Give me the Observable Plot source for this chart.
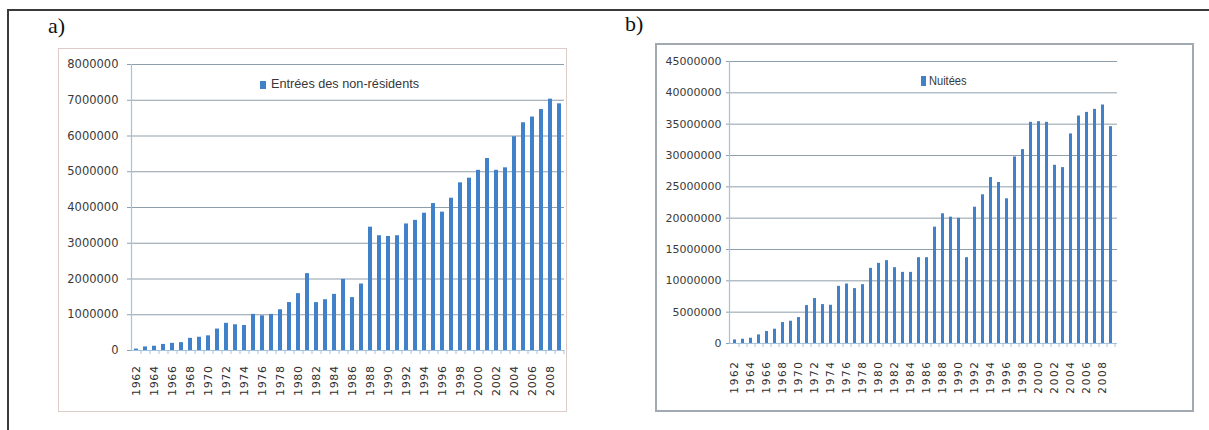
<!DOCTYPE html>
<html>
<head>
<meta charset="utf-8">
<script src="https://cdn.jsdelivr.net/npm/d3@7"></script>
<script src="https://cdn.jsdelivr.net/npm/@observablehq/plot@0.6"></script>
<style>
  html, body { margin: 0; padding: 0; background: #fff; }
  #page { position: relative; width: 1209px; height: 430px; overflow: hidden; background: #fff; }
  .frameline { position: absolute; background: #3a3a3a; }
  .plabel { position: absolute; font-family: "Liberation Serif", "Times New Roman", serif; font-size: 22px; line-height: 22px; color: #111; }
  .box { position: absolute; box-sizing: border-box; }
  .legsq { position: absolute; background: #4181c9; }
  .legtx { position: absolute; font-family: "Liberation Sans", Arial, sans-serif; color: #383838; white-space: nowrap; line-height: 1; }
  .chart { position: absolute; }
</style>
</head>
<body>
<div id="page">
  <div class="frameline" style="left:7px;top:9px;width:1202px;height:2px;"></div>
  <div class="frameline" style="left:7px;top:9px;width:2px;height:421px;"></div>
  <div class="plabel" style="left:48px;top:15px;">a)</div>
  <div class="plabel" style="left:625px;top:13px;">b)</div>
  <div class="box" style="left:58px;top:48px;width:509px;height:364px;border:1.5px solid #dccbc6;"></div>
  <div class="box" style="left:655px;top:43px;width:539px;height:369px;border:2px solid #a3a9b0;"></div>
  <div id="chartA" class="chart" style="left:58px;top:48px;"></div>
  <div id="chartB" class="chart" style="left:655px;top:43px;"></div>
  <div class="legsq" style="left:260px;top:81px;width:6px;height:8px;"></div>
  <div class="legtx" style="left:271px;top:78px;font-size:12.7px;">Entrées des non-résidents</div>
  <div class="legsq" style="left:921px;top:76px;width:5px;height:10px;"></div>
  <div class="legtx" style="left:929px;top:74px;font-size:13.5px;transform:scaleX(0.82);transform-origin:left center;">Nuitées</div>
</div>
<script>
// ---- data ----
const years = [1962, 1963, 1964, 1965, 1966, 1967, 1968, 1969, 1970, 1971,
  1972, 1973, 1974, 1975, 1976, 1977, 1978, 1979, 1980, 1981,
  1982, 1983, 1984, 1985, 1986, 1987, 1988, 1989, 1990, 1991,
  1992, 1993, 1994, 1995, 1996, 1997, 1998, 1999, 2000, 2001,
  2002, 2003, 2004, 2005, 2006, 2007, 2008, 2009];

// a) Entrées des non-résidents
const entrees = [40000, 100000, 120000, 170000, 200000, 220000, 340000, 370000, 410000, 600000,
  760000, 720000, 700000, 1010000, 970000, 1010000, 1140000, 1340000, 1590000, 2150000,
  1340000, 1420000, 1570000, 1990000, 1480000, 1860000, 3450000, 3210000, 3190000, 3210000,
  3540000, 3640000, 3840000, 4110000, 3870000, 4260000, 4690000, 4820000, 5040000, 5370000,
  5040000, 5110000, 5980000, 6370000, 6530000, 6740000, 7030000, 6900000];

// b) Nuitées
const nuitees = [570000, 680000, 840000, 1370000, 1910000, 2280000, 3340000, 3550000, 4140000, 6050000,
  7170000, 6210000, 6100000, 9120000, 9490000, 8760000, 9390000, 11990000, 12790000, 13220000,
  12100000, 11350000, 11350000, 13690000, 13690000, 18570000, 20700000, 20160000, 19980000, 13690000,
  21750000, 23730000, 26480000, 25690000, 23090000, 29770000, 30940000, 35290000, 35400000, 35290000,
  28440000, 28070000, 33440000, 36300000, 36880000, 37360000, 38060000, 34600000];

const yTicksA = [0, 1000000, 2000000, 3000000, 4000000, 5000000, 6000000, 7000000, 8000000];
const yTicksB = [0, 5000000, 10000000, 15000000, 20000000, 25000000, 30000000, 35000000, 40000000, 45000000];
const yearLabels = [1962, 1964, 1966, 1968, 1970, 1972, 1974, 1976, 1978, 1980, 1982, 1984,
  1986, 1988, 1990, 1992, 1994, 1996, 1998, 2000, 2002, 2004, 2006, 2008];

// ---- styles ----
const barColor = "#4181c9";
const gridColor = "#8f9eab";
const axisColor = "#a3c2de";
const textColor = "#3a3a3a";
const tickFont = "DejaVu Sans, Verdana, sans-serif";

function makeChart(cfg) {
  const data = years.map((year, i) => ({year, value: cfg.values[i]}));
  const step = (cfg.width - cfg.ml - cfg.mr) / years.length;
  const svg = Plot.plot({
    width: cfg.width,
    height: cfg.height,
    marginLeft: cfg.ml,
    marginRight: cfg.mr,
    marginTop: cfg.mt,
    marginBottom: cfg.mb,
    style: {background: "transparent", overflow: "visible"},
    x: {type: "band", domain: years, paddingInner: cfg.pad, paddingOuter: cfg.pad / 2, axis: null, label: null},
    y: {domain: [0, cfg.yTicks[cfg.yTicks.length - 1]], axis: null, label: null},
    marks: [
      Plot.gridY(cfg.yTicks, {stroke: gridColor, strokeOpacity: 1, strokeWidth: 1}),
      Plot.axisY(cfg.yTicks, {
        label: null,
        tickSize: cfg.yTickSize, tickPadding: cfg.yTickPad, tickFormat: d3.format("d"),
        stroke: gridColor, fill: textColor, fontSize: cfg.yFont, fontFamily: tickFont
      }),
      Plot.barY(data, {x: "year", y: "value", fill: barColor}),
      Plot.frame({anchor: "left", stroke: axisColor, strokeWidth: 1.2}),
      Plot.ruleY([0], {stroke: axisColor, strokeWidth: 1.2}),
      Plot.axisX(years, {label: null, tickSize: 4, tickFormat: () => "", dx: step / 2, stroke: axisColor}),
      Plot.axisX(yearLabels, {
        label: null,
        tickSize: 0, tickRotate: -90, tickPadding: cfg.xTickPad, tickFormat: d3.format("d"),
        fill: "#2e2e2e", fontSize: cfg.xFont, fontFamily: tickFont
      })
    ]
  });
  svg.querySelectorAll('g[aria-label="x-axis tick label"] text').forEach(t => {
    t.setAttribute("letter-spacing", cfg.xSpacing);
  });
  return svg;
}

document.getElementById("chartA").appendChild(makeChart({
  values: entrees, yTicks: yTicksA,
  width: 509, height: 364, ml: 73, mr: 3, mt: 16, mb: 62,
  pad: 0.52, yTickSize: 4, yTickPad: 9, yFont: 11.5,
  xTickPad: 15, xFont: 11, xSpacing: 0.6
}));

document.getElementById("chartB").appendChild(makeChart({
  values: nuitees, yTicks: yTicksB,
  width: 539, height: 369, ml: 74, mr: 77, mt: 18, mb: 69,
  pad: 0.58, yTickSize: 3, yTickPad: 5, yFont: 11,
  xTickPad: 17, xFont: 10.5, xSpacing: 1.6
}));
</script>
</body>
</html>
